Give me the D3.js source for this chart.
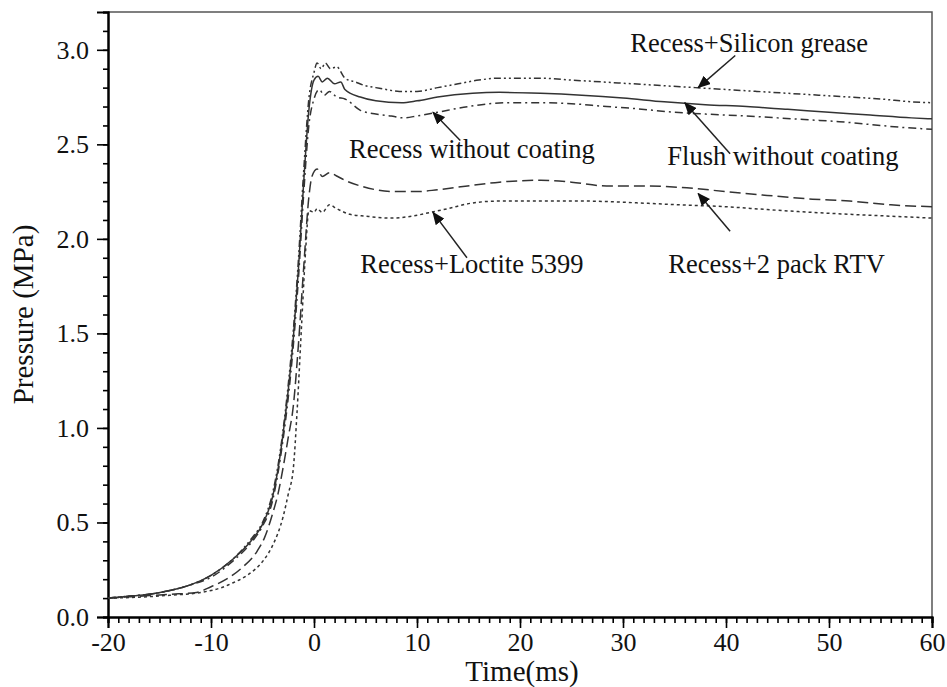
<!DOCTYPE html>
<html>
<head>
<meta charset="utf-8">
<script src="https://cdn.jsdelivr.net/npm/d3@7"></script>
<style>
    body { margin: 0; background: #fff; }
    svg { display: block; font-family: "Times New Roman", "Liberation Serif", serif; }
</style>
</head>
<body>
<script>
// 坐标轴刻度
const xMajorTicks = [-20, -10, 0, 10, 20, 30, 40, 50, 60];
const yMajorTicks = [0, 0.5, 1.0, 1.5, 2.0, 2.5, 3.0];

// Recess+Silicon grease
const siliconTime = [-20, -18, -16, -14, -12, -10, -8, -6, -5, -4, -3.5, -3, -2.5, -2, -1.5, -1, -0.5,
    0, 0.3, 0.7, 1.1, 1.6, 2.2, 3, 4, 5, 6, 7, 8.3, 10, 12, 14, 16, 18, 20, 22, 25, 28, 31, 34, 37, 40,
    43, 46, 49, 52, 55, 58, 60];
const siliconPressure = [0.10, 0.11, 0.12, 0.14, 0.17, 0.22, 0.30, 0.42, 0.50, 0.66, 0.80, 0.99, 1.23,
    1.52, 1.90, 2.36, 2.74, 2.88, 2.93, 2.90, 2.93, 2.90, 2.91, 2.85, 2.83, 2.81, 2.80, 2.79, 2.78, 2.78,
    2.80, 2.82, 2.84, 2.85, 2.85, 2.85, 2.84, 2.83, 2.82, 2.81, 2.80, 2.79, 2.78, 2.77, 2.76, 2.75, 2.74,
    2.725, 2.72];

// Flush without coating
const flushTime = [-20, -18, -16, -14, -12, -10, -8, -6, -5, -4, -3.5, -3, -2.5, -2, -1.5, -1, -0.5,
    0, 0.4, 0.8, 1.3, 2, 2.6, 3, 4.5, 6, 8.5, 10, 12, 15.4, 18, 22, 26, 30, 34, 38, 42, 46, 50, 54, 58, 60];
const flushPressure = [0.10, 0.11, 0.12, 0.14, 0.17, 0.22, 0.30, 0.41, 0.49, 0.64, 0.78, 0.97, 1.20,
    1.48, 1.85, 2.30, 2.68, 2.84, 2.86, 2.83, 2.85, 2.82, 2.83, 2.79, 2.75, 2.73, 2.72, 2.73, 2.75, 2.77,
    2.775, 2.77, 2.76, 2.745, 2.725, 2.71, 2.70, 2.685, 2.67, 2.655, 2.64, 2.635];

// Recess without coating
const recessTime = [-20, -18, -16, -14, -12, -10, -8, -6, -5, -4, -3.5, -3, -2.5, -2, -1.5, -1, -0.5,
    0, 0.5, 1, 1.5, 2.2, 3, 4.5, 6, 7.5, 8.6, 10, 12, 15, 18.7, 22, 25, 28.4, 31, 34.9, 38, 42, 45, 48,
    51, 54, 57, 60];
const recessPressure = [0.10, 0.11, 0.12, 0.14, 0.17, 0.21, 0.29, 0.40, 0.48, 0.62, 0.76, 0.94, 1.16,
    1.44, 1.80, 2.24, 2.60, 2.74, 2.79, 2.76, 2.78, 2.75, 2.74, 2.68, 2.66, 2.65, 2.64, 2.65, 2.67, 2.70,
    2.72, 2.72, 2.715, 2.70, 2.69, 2.67, 2.66, 2.65, 2.64, 2.63, 2.62, 2.605, 2.59, 2.58];

// Recess+2 pack RTV
const rtvTime = [-20, -17, -14, -11.4, -10, -8.2, -7, -5.5, -4.8, -4, -3.5, -3, -2.5, -2, -1.5, -1, -0.5,
    -0.2, 0.3, 0.8, 1.5, 2.3, 3, 4.5, 6, 8, 10, 12, 14.9, 18, 22, 25, 28.4, 32, 36.2, 40, 44, 48.4, 52,
    56, 60];
const rtvPressure = [0.10, 0.11, 0.12, 0.13, 0.16, 0.21, 0.26, 0.35, 0.42, 0.55, 0.65, 0.79, 0.95, 1.12,
    1.45, 1.85, 2.22, 2.33, 2.37, 2.33, 2.35, 2.33, 2.31, 2.28, 2.26, 2.25, 2.25, 2.26, 2.28, 2.30, 2.31,
    2.30, 2.28, 2.28, 2.27, 2.25, 2.23, 2.21, 2.20, 2.18, 2.17];

// Recess+Loctite 5399
const loctiteTime = [-20, -17, -14, -11, -9, -7.9, -6.5, -4.9, -4, -3, -2.5, -2, -1.65, -1.2, -0.8, -0.5,
    0, 0.3, 0.8, 1.5, 2.2, 3.5, 5, 7.4, 9.5, 11.3, 13, 15.4, 18, 22, 26, 31.6, 35.5, 40, 44, 48.4, 52,
    56, 60];
const loctitePressure = [0.10, 0.105, 0.115, 0.13, 0.155, 0.18, 0.22, 0.30, 0.38, 0.53, 0.65, 0.79, 1.08,
    1.55, 1.95, 2.15, 2.14, 2.16, 2.14, 2.18, 2.16, 2.13, 2.12, 2.11, 2.12, 2.14, 2.16, 2.19, 2.20, 2.20,
    2.20, 2.19, 2.18, 2.17, 2.155, 2.14, 2.13, 2.12, 2.11];

// 标注文字及箭头（数据坐标）
const labelNames = ['Recess+Silicon grease', 'Recess without coating', 'Flush without coating',
    'Recess+2 pack RTV', 'Recess+Loctite 5399'];
const labelPos = [[30.7, 2.99], [3.4, 2.43], [34.3, 2.39], [34.4, 1.82], [4.5, 1.82]];
const arrowFrom = [[40.9, 2.97], [14.2, 2.52], [40.4, 2.45], [40.4, 2.04], [14.85, 1.90]];
const arrowTo = [[37.3, 2.80], [11.55, 2.67], [36.0, 2.72], [37.3, 2.24], [11.55, 2.14]];

// svg区域大小
const width = 947;
const height = 687;
const plot = {
    left: 108,
    right: 932,
    top: 12,
    bottom: 617
};

const x = d3.scaleLinear().domain([-20, 60]).range([plot.left, plot.right]);
const y = d3.scaleLinear().domain([0, 3.2]).range([plot.bottom, plot.top]);

const svg = d3.select('body')
    .append('svg')
    .attr('width', width)
    .attr('height', height);

// 边框（上、右）
svg.append('path')
    .attr('d', `M${plot.left},${plot.top}H${plot.right}V${plot.bottom}`)
    .attr('fill', 'none')
    .attr('stroke', '#555')
    .attr('stroke-width', 1.5);

// 次刻度
const xMinor = d3.range(-20, 61, 1);
const yMinor = d3.range(0, 33, 1).map(d => d / 10);

svg.append('g')
    .attr('class', 'minor')
    .attr('transform', `translate(0,${plot.bottom})`)
    .call(d3.axisBottom(x).tickValues(xMinor).tickSize(6).tickFormat(''));

svg.append('g')
    .attr('class', 'minor')
    .attr('transform', `translate(${plot.left},0)`)
    .call(d3.axisLeft(y).tickValues(yMinor).tickSize(5).tickFormat(''));

// 主刻度
svg.append('g')
    .attr('class', 'major')
    .attr('transform', `translate(0,${plot.bottom})`)
    .call(d3.axisBottom(x).tickValues(xMajorTicks).tickSize(11).tickPadding(5).tickFormat(d => String(d)));

svg.append('g')
    .attr('class', 'major')
    .attr('transform', `translate(${plot.left},0)`)
    .call(d3.axisLeft(y).tickValues(yMajorTicks).tickSize(11).tickPadding(8).tickFormat(d => d.toFixed(1)));

svg.selectAll('.major, .minor').selectAll('.domain')
    .attr('stroke', '#000')
    .attr('stroke-width', 2);
svg.selectAll('.major, .minor').selectAll('.tick line')
    .attr('stroke', '#000')
    .attr('stroke-width', 1.6);
svg.selectAll('.major text')
    .attr('font-family', '"Times New Roman", "Liberation Serif", serif')
    .attr('font-size', '26px')
    .attr('fill', '#111');

// 轴标题
svg.append('text')
    .attr('x', (plot.left + plot.right) / 2 + 2)
    .attr('y', 681)
    .attr('text-anchor', 'middle')
    .attr('font-size', '29px')
    .attr('fill', '#111')
    .text('Time(ms)');

svg.append('text')
    .attr('transform', `translate(33,${(plot.top + plot.bottom) / 2}) rotate(-90)`)
    .attr('text-anchor', 'middle')
    .attr('font-size', '29px')
    .attr('fill', '#111')
    .text('Pressure (MPa)');

// 曲线
const series = [
    {t: siliconTime, p: siliconPressure, dash: '7,3,2,3,2,3'},
    {t: flushTime, p: flushPressure, dash: null},
    {t: recessTime, p: recessPressure, dash: '8,4,2,4'},
    {t: rtvTime, p: rtvPressure, dash: '11,5'},
    {t: loctiteTime, p: loctitePressure, dash: '3,3'}
];

const line = d3.line()
    .x(d => x(d[0]))
    .y(d => y(d[1]))
    .curve(d3.curveMonotoneX);

svg.append('g')
    .selectAll('path')
    .data(series)
    .enter()
    .append('path')
    .attr('d', s => line(s.t.map((t, i) => [t, s.p[i]])))
    .attr('fill', 'none')
    .attr('stroke', '#333')
    .attr('stroke-width', 1.5)
    .attr('stroke-dasharray', s => s.dash);

// 箭头
svg.append('defs')
    .append('marker')
    .attr('id', 'head')
    .attr('viewBox', '0 0 12 10')
    .attr('refX', 11)
    .attr('refY', 5)
    .attr('markerWidth', 13)
    .attr('markerHeight', 11)
    .attr('markerUnits', 'userSpaceOnUse')
    .attr('orient', 'auto')
    .append('path')
    .attr('d', 'M0,0L12,5L0,10Z')
    .attr('fill', '#111');

svg.append('g')
    .selectAll('line')
    .data(labelNames)
    .enter()
    .append('line')
    .attr('x1', (d, i) => x(arrowFrom[i][0]))
    .attr('y1', (d, i) => y(arrowFrom[i][1]))
    .attr('x2', (d, i) => x(arrowTo[i][0]))
    .attr('y2', (d, i) => y(arrowTo[i][1]))
    .attr('stroke', '#222')
    .attr('stroke-width', 1.5)
    .attr('marker-end', 'url(#head)');

svg.append('g')
    .selectAll('text')
    .data(labelNames)
    .enter()
    .append('text')
    .attr('x', (d, i) => x(labelPos[i][0]))
    .attr('y', (d, i) => y(labelPos[i][1]))
    .attr('font-size', '26.5px')
    .attr('fill', '#111')
    .text(d => d);
</script>
</body>
</html>
